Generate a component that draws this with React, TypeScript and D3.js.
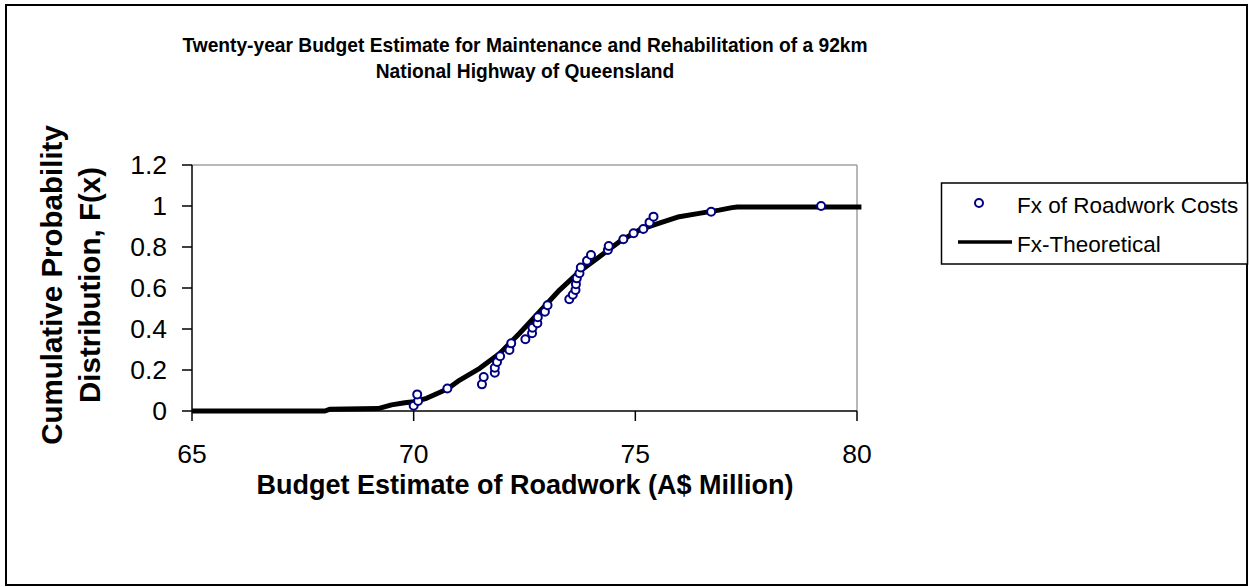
import React from "react";
import * as d3 from "d3";

// observed cumulative probabilities (A$ million, F(x))
const costX = [
  70.0, 70.1, 70.08, 70.76, 71.54, 71.58, 71.83, 71.83, 71.88, 71.95, 72.16, 72.2,
  72.52, 72.67, 72.68, 72.79, 72.8, 72.96, 73.02, 73.51, 73.59, 73.65, 73.66, 73.68,
  73.74, 73.77, 73.91, 74.0, 74.38, 74.4, 74.73, 74.96, 75.18, 75.32, 75.41, 76.71, 79.19,
];
const costF = [
  0.026, 0.049, 0.081, 0.11, 0.13, 0.166, 0.187, 0.211, 0.239, 0.267, 0.298, 0.33,
  0.35, 0.379, 0.406, 0.428, 0.457, 0.484, 0.516, 0.545, 0.567, 0.59, 0.618, 0.647,
  0.672, 0.7, 0.733, 0.761, 0.785, 0.805, 0.838, 0.867, 0.888, 0.92, 0.948, 0.972, 1.0,
];

// theoretical curve
const theoX = [
  65.0, 68.0, 68.1, 69.2, 69.5, 69.8, 70.0, 70.29, 70.76, 71.04, 71.49, 71.94, 72.39,
  72.84, 73.29, 73.74, 74.19, 74.64, 75.09, 75.54, 75.99, 76.44, 76.89, 77.18, 77.3, 80.1,
];
const theoF = [
  0.0, 0.0, 0.008, 0.012, 0.03, 0.04, 0.045, 0.062, 0.107, 0.151, 0.208, 0.281, 0.379,
  0.484, 0.59, 0.68, 0.753, 0.826, 0.883, 0.916, 0.948, 0.964, 0.98, 0.992, 0.995, 0.995,
];

const xTicks = [65, 70, 75, 80];
const yTicks = [0, 0.2, 0.4, 0.6, 0.8, 1, 1.2];

const titleLines = [
  "Twenty-year Budget Estimate for Maintenance and Rehabilitation of a 92km",
  "National Highway of Queensland",
];
const yLabelLines = ["Cumulative Probability", "Distribution, F(x)"];
const xLabel = "Budget Estimate of Roadwork (A$ Million)";
const legendNames = ["Fx of Roadwork Costs", "Fx-Theoretical"];

const font = "Arial, 'Liberation Sans', sans-serif";

export default function App() {
  const W = 1249;
  const H = 587;
  const plot = { left: 192, right: 857, top: 165, bottom: 411 };

  const x = d3.scaleLinear().domain([65, 80]).range([plot.left, plot.right]);
  const y = d3.scaleLinear().domain([0, 1.2]).range([plot.bottom, plot.top]);

  const line = d3
    .line<number>()
    .x((d) => x(d))
    .y((_, i) => y(theoF[i]));

  return (
    <svg
      width={W}
      height={H}
      style={{ position: "absolute", left: 0, top: 0, background: "#fff" }}
      fontFamily={font}
    >
      <rect x={6} y={5} width={1241} height={580} fill="#fff" stroke="#000" strokeWidth={2} />

      {titleLines.map((t, i) => (
        <text
          key={t}
          transform={`translate(525,${52 + i * 26}) scale(1,1.08)`}
          textAnchor="middle"
          fontWeight="bold"
          fontSize={19.2}
        >
          {t}
        </text>
      ))}

      {/* plot frame: grey top / right */}
      <line x1={plot.left} x2={plot.right} y1={plot.top} y2={plot.top} stroke="#a0a0a0" strokeWidth={1.5} />
      <line x1={plot.right} x2={plot.right} y1={plot.top} y2={plot.bottom} stroke="#a0a0a0" strokeWidth={1.5} />

      {/* axes */}
      <line x1={plot.left} x2={plot.left} y1={plot.top} y2={plot.bottom} stroke="#000" strokeWidth={1.5} />
      <line x1={plot.left} x2={plot.right} y1={plot.bottom} y2={plot.bottom} stroke="#000" strokeWidth={1.5} />

      {yTicks.map((t) => (
        <g key={t}>
          <line x1={plot.left - 10} x2={plot.left} y1={y(t)} y2={y(t)} stroke="#000" strokeWidth={1.5} />
          <text x={167} y={y(t)} dy="0.35em" textAnchor="end" fontSize={26.5}>
            {t}
          </text>
        </g>
      ))}
      {xTicks.map((t) => (
        <g key={t}>
          <line x1={x(t)} x2={x(t)} y1={plot.bottom} y2={plot.bottom + 10} stroke="#000" strokeWidth={1.5} />
          <text x={x(t)} y={463} textAnchor="middle" fontSize={26.5}>
            {t}
          </text>
        </g>
      ))}

      <text x={525} y={493.5} textAnchor="middle" fontWeight="bold" fontSize={27}>
        {xLabel}
      </text>
      {yLabelLines.map((t, i) => (
        <text
          key={t}
          transform={`translate(${62 + i * 38},285) rotate(-90)`}
          textAnchor="middle"
          fontWeight="bold"
          fontSize={29.5}
        >
          {t}
        </text>
      ))}

      <path d={line(theoX) ?? ""} fill="none" stroke="#000" strokeWidth={5} strokeLinejoin="round" />

      {costX.map((v, i) => (
        <circle
          key={i}
          cx={x(v)}
          cy={y(costF[i])}
          r={4}
          fill="#fff"
          stroke="#000080"
          strokeWidth={2}
        />
      ))}

      {/* legend */}
      <rect x={941.5} y={183} width={306} height={81} fill="#fff" stroke="#000" strokeWidth={1.5} />
      <circle cx={979} cy={203} r={4} fill="#fff" stroke="#000080" strokeWidth={2} />
      <text x={1017} y={213} fontSize={22.5}>
        {legendNames[0]}
      </text>
      <line x1={958} x2={1012} y1={242} y2={242} stroke="#000" strokeWidth={3.5} />
      <text x={1017} y={252} fontSize={22.5}>
        {legendNames[1]}
      </text>
    </svg>
  );
}
